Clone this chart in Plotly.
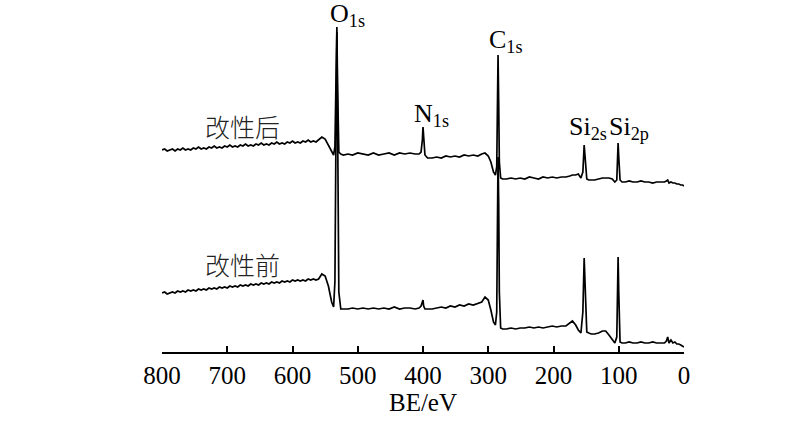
import plotly.graph_objects as go

# Binding energy grid (eV), shared by both spectra
be_ev = [800, 796, 792, 788, 784, 780, 776, 772, 768, 764, 760, 756, 752, 748, 744, 740,
         736, 732, 728, 724, 720, 716, 712, 708, 704, 700, 696, 692, 688, 684, 680, 676,
         672, 668, 664, 660, 656, 652, 648, 644, 640, 636, 632, 628, 624, 620, 616, 612,
         608, 604, 600, 596, 592, 588, 584, 580, 576, 572, 568, 564, 560,
         555, 550, 545, 540, 537, 535, 533, 532, 531, 529, 526, 522,
         515, 508, 500, 492, 484, 476, 468, 460, 452, 444, 436, 428, 420, 412,
         406, 403, 401, 400, 399, 397, 393,
         386, 379, 372, 365, 358, 351, 344, 337, 330, 323, 316, 310,
         305, 300, 296, 292, 289, 287, 286, 285, 284, 283, 281, 278,
         272, 265, 258, 251, 244, 237, 230, 223, 216, 209, 202, 195, 188, 181,
         175, 171, 166, 162, 158, 155, 153, 151, 149, 146, 142, 137, 131, 125,
         120, 115, 110, 106, 103, 101, 100, 98, 95,
         90, 84, 78, 72, 66, 60, 54, 48, 42, 36, 30, 27, 25, 23, 20, 17, 14, 11, 8, 5, 2, 0]

# Intensity (a.u., offset) after modification
after_mod = [202, 203, 201, 202, 203, 201, 203, 202, 204, 202,
             203, 202, 204, 203, 205, 203, 204, 203, 205, 204,
             206, 204, 205, 204, 206, 205, 207, 205, 206, 205,
             207, 206, 208, 206, 207, 206, 208, 207, 209, 207,
             208, 207, 209, 208, 210, 208, 209, 208, 210, 209,
             211, 209, 210, 209, 211, 210, 212, 210, 211, 210, 212,
             215, 213, 207, 200, 197, 205, 280, 325, 270, 200, 198, 197,
             198, 197, 199, 198, 197, 199, 197, 198, 199, 197, 199, 198, 199, 198,
             198, 200, 212, 225, 210, 197, 194,
             194, 195, 194, 196, 195, 196, 195, 197, 196, 197, 196, 198,
             199, 196, 190, 180, 177, 185, 240, 297, 250, 190, 174, 173,
             173, 174, 173, 174, 173, 175, 174, 173, 175, 174, 175, 174, 175, 175,
             176, 177, 177, 178, 174, 180, 207, 185, 173, 172, 172, 172, 173, 174,
             174, 174, 173, 170, 172, 209, 195, 172, 170,
             170, 171, 170, 170, 171, 170, 170, 169, 170, 170, 170, 171, 172, 169, 170, 169, 169, 168, 168, 167, 167, 166]

# Intensity (a.u., offset) before modification
before_mod = [59, 60, 58, 59, 60, 59, 61, 60, 61, 60,
              62, 61, 62, 61, 63, 62, 63, 62, 64, 63,
              64, 63, 65, 64, 65, 64, 66, 65, 66, 65,
              67, 66, 67, 66, 68, 67, 68, 67, 69, 68,
              69, 68, 70, 69, 70, 69, 71, 70, 71, 70,
              72, 71, 72, 71, 72, 71, 73, 72, 73, 72, 73,
              78, 76, 66, 50, 45, 70, 250, 320, 240, 60, 43, 43,
              43, 44, 43, 44, 43, 44, 43, 44, 43, 45, 43, 44, 44, 43,
              44, 46, 49, 52, 46, 43, 43,
              43, 44, 45, 44, 46, 45, 47, 46, 48, 47, 49, 50,
              55, 52, 42, 30, 27, 40, 120, 195, 150, 60, 24, 23,
              23, 24, 23, 24, 24, 25, 24, 25, 24, 25, 26, 25, 26, 26,
              29, 31, 27, 22, 19, 40, 94, 45, 20, 19, 18, 18, 19, 21,
              21, 17, 13, 9, 15, 95, 60, 10, 9,
              9, 10, 9, 9, 10, 9, 9, 10, 9, 9, 9, 11, 15, 9, 12, 9, 10, 8, 8, 7, 6, 5]

# Tick labels
tick_vals = [800, 700, 600, 500, 400, 300, 200, 100, 0]
tick_text = ["800", "700", "600", "500", "400", "300", "200", "100", "0"]

# Peak labels: (text, BE of left edge, intensity level)
peak_labels = [("O<sub>1s</sub>", 545.6, 337),
               ("N<sub>1s</sub>", 416.9, 237),
               ("C<sub>1s</sub>", 301.9, 311),
               ("Si<sub>2s</sub>", 179.3, 224),
               ("Si<sub>2p</sub>", 118.0, 224)]

# Series labels: (text, BE of centre, intensity level)
series_labels = [("改性后", 676, 226), ("改性前", 676, 88)]

serif = "Liberation Serif, Times New Roman, serif"
cjk = "Noto Sans CJK SC, sans-serif"

fig = go.Figure()
for ys in (after_mod, before_mod):
    fig.add_trace(go.Scatter(x=be_ev, y=ys, mode="lines",
                             line=dict(color="black", width=1.7),
                             showlegend=False, hoverinfo="skip"))

for txt, xv, yv in peak_labels:
    fig.add_annotation(x=xv, y=yv, text=txt, showarrow=False,
                       xanchor="left", yanchor="middle",
                       font=dict(family=serif, size=26, color="black"))

for txt, xv, yv in series_labels:
    fig.add_annotation(x=xv, y=yv, text=txt, showarrow=False,
                       xanchor="center", yanchor="middle",
                       font=dict(family=cjk, size=25, color="#222", weight=300))

fig.update_layout(
    width=800, height=421,
    margin=dict(l=162, r=116, t=12, b=69),
    paper_bgcolor="white", plot_bgcolor="white",
    xaxis=dict(range=[800, 0], tickvals=tick_vals, ticktext=tick_text,
               showline=True, linecolor="black", linewidth=1.5,
               ticks="inside", ticklen=6, tickwidth=1.5, tickcolor="black",
               showgrid=False, zeroline=False, ticklabelstandoff=0,
               automargin=False,
               tickfont=dict(family=serif, size=25, color="black"),
               title=dict(text="BE/eV", standoff=6,
                          font=dict(family=serif, size=25, color="black"))),
    yaxis=dict(range=[0, 340], visible=False, automargin=False),
)

fig.write_html("out.html", config={"displayModeBar": False},
               post_script="document.body.style.margin='0';")
